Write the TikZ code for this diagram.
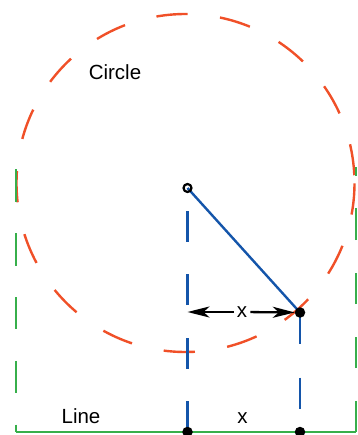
\documentclass[tikz,border=0pt]{standalone}
\usepackage{fontspec}
\setmainfont{Liberation Sans}
\usetikzlibrary{arrows.meta,backgrounds,calc}
\definecolor{cred}{RGB}{240,80,40}
\definecolor{cblue}{RGB}{20,85,170}
\definecolor{cgreen}{RGB}{55,175,75}
\begin{document}
\begin{tikzpicture}[x=1pt,y=1pt,
  lbl/.style={font=\fontsize{20.5}{24}\selectfont, inner sep=0pt, anchor=base},
  reddash/.style={draw=cred, line width=2.4pt, dash pattern=on 31.3pt off 32.6pt},
  greenline/.style={draw=cgreen, line width=2.4pt},
  blueline/.style={draw=cblue, line width=2.4pt},
  dotnode/.style={circle, fill=black, inner sep=0pt, outer sep=0pt, minimum size=10.5pt},
  opendot/.style={circle, draw=black, line width=2.2pt, inner sep=0pt, outer sep=0pt, minimum size=8pt},
  arr/.style={draw=black, line width=2.3pt, -{Stealth[length=22pt,width=11pt,inset=6pt]}}
]
\useasboundingbox (0,0) rectangle (357,-435);
% named points
\coordinate (C) at (185.5,-183);
\coordinate (GL1) at (16,-169.5);
\coordinate (GL2) at (16,-432);
\coordinate (GR1) at (355.8,-432);
\coordinate (GR2) at (355.8,-167);
\node[opendot] (O) at (187.5,-188) {};
\node[dotnode] (P) at (300,-312.5) {};
\node[dotnode] (B1) at (187.5,-432) {};
\node[dotnode] (B2) at (300,-432) {};
% texts
\node[lbl] (circ) at (115,-80) {Circle};
\node[lbl] (line) at (81,-423.3) {Line};
\node[lbl] (xb) at (242.5,-423.3) {x};
\node[font=\fontsize{20.5}{24}\selectfont, fill=white, inner xsep=3pt, inner ysep=1pt] (X) at (242,-312) {x};
\coordinate (AL) at (B1 |- X);
% arrows
\draw[arr] (X) -- (AL);
\draw[arr] (X) -- (P);
\begin{scope}[on background layer]
  \draw[reddash] ($(C)+(2.64:169)$) arc[start angle=2.64, end angle=362.64, radius=169];
  \draw[greenline, dash pattern=on 32.3pt off 31.5pt] (GL1) -- (GL2);
  \draw[greenline, dash pattern=on 31.5pt off 32.5pt] (GR1) -- (GR2);
  \draw[greenline, line cap=square] (GL2) -- (GR1);
  \draw[blueline] (O.center) -- (P.center);
  \draw[blueline, dash pattern=on 31pt off 32.5pt] (B1.center) -- (O.center);
  \draw[blueline, dash pattern=on 31pt off 34pt] (P.center) -- (B2.center);
\end{scope}
\end{tikzpicture}
\end{document}
